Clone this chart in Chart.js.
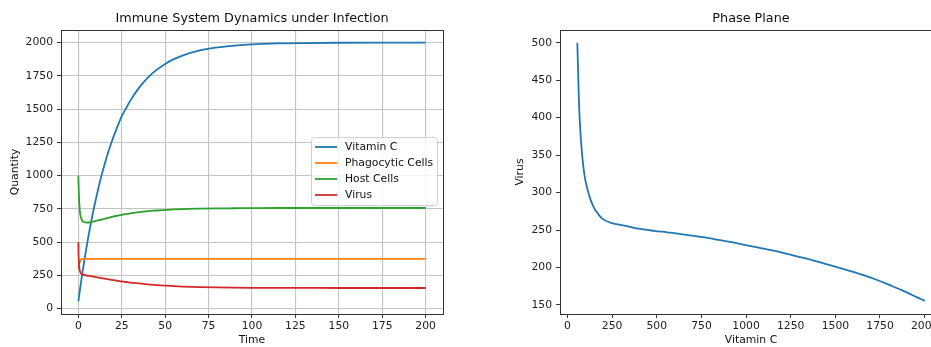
<!DOCTYPE html>
<html>
<head>
<meta charset="utf-8">
<script src="https://cdn.jsdelivr.net/npm/chart.js@4.4.1/dist/chart.umd.min.js"></script>
<style>
  html, body { margin:0; padding:0; background:#fff; }
  #page { position:relative; width:931px; height:347px; overflow:hidden; }
  #left { position:absolute; left:0; top:0; }
  #right { position:absolute; left:460px; top:0; }
</style>
</head>
<body>
<div id="page">
  <canvas id="left" width="460" height="347"></canvas>
  <canvas id="right" width="499" height="347"></canvas>
</div>
<script>
// simulation output
const time = [0, 0.1, 0.2, 0.3, 0.4, 0.5, 0.75, 1, 1.25, 1.5,
  2, 2.5, 3, 4, 5, 6, 7, 8, 9, 10,
  12.5, 15, 17.5, 20, 22.5, 25, 27.5, 30, 35, 40,
  45, 50, 55, 60, 70, 80, 90, 100, 115, 130,
  150, 175, 200];
const vitaminC = [55, 65, 74, 84, 94, 103, 127, 150, 173, 196,
  240, 284, 326, 407, 485, 559, 629, 697, 760, 819,
  959, 1081, 1189, 1284, 1369, 1448, 1508, 1566, 1662, 1737,
  1795, 1840, 1876, 1903, 1941, 1964, 1978, 1987, 1994, 1997,
  1999, 2000, 2000];
const phagocytic = [300, 310, 320, 328, 334, 340, 352, 360, 365, 369,
  373, 374.5, 375, 375, 375, 375, 375, 375, 375, 375,
  375, 375, 375, 375, 375, 375, 375, 375, 375, 375,
  375, 375, 375, 375, 375, 375, 375, 375, 375, 375,
  375, 375, 375];
const hostCells = [1000, 945, 900, 860, 828, 800, 750, 718, 698, 685,
  668, 658, 652, 648, 647, 648, 650, 653, 656, 660,
  668, 676, 684, 692, 699, 706, 712, 717, 726, 733,
  738, 743, 746, 749, 752, 754, 755, 756, 757, 757,
  757, 757, 757];
const virus = [500, 415, 375, 345, 325, 313, 292, 279, 271, 265,
  260, 257.5, 255.5, 251.5, 249, 247, 245, 242.5, 240.5, 238,
  232, 226, 220.5, 215, 210, 204.5, 200.5, 196.5, 189.5, 183,
  177.5, 173, 169.5, 166.5, 162, 159.5, 158, 157, 156.5, 156,
  155.5, 155.5, 155.5];

const seriesNames = ['Vitamin C', 'Phagocytic Cells', 'Host Cells', 'Virus'];
const seriesColors = ['#1f77b4', '#ff7f0e', '#2ca02c', '#d62728'];

const FS = 10.8;
Chart.defaults.font.family = "'DejaVu Sans', sans-serif";
Chart.defaults.font.size = FS;
Chart.defaults.color = '#222';

// matplotlib style box around the axes
const framePlugin = {
  id: 'frame',
  afterDraw(chart){
    const a = chart.chartArea, ctx = chart.ctx;
    ctx.save();
    ctx.strokeStyle = '#333';
    ctx.lineWidth = 1;
    ctx.strokeRect(Math.round(a.left)+0.5, Math.round(a.top)+0.5, Math.round(a.right-a.left), Math.round(a.bottom-a.top));
    ctx.restore();
  }
};

// legend drawn inside the plot area
const boxLegend = {
  id: 'boxLegend',
  afterDatasetsDraw(chart){
    const a = chart.chartArea, ctx = chart.ctx;
    const w = 126, h = 68;
    const x = a.right - 6 - w, y = a.top + 107;
    ctx.save();
    ctx.beginPath();
    ctx.roundRect(x+0.5, y+0.5, w, h, 3);
    ctx.fillStyle = 'rgba(255,255,255,0.8)';
    ctx.fill();
    ctx.strokeStyle = '#d0d0d0';
    ctx.lineWidth = 1;
    ctx.stroke();
    ctx.font = FS + "px 'DejaVu Sans'";
    ctx.textBaseline = 'middle';
    chart.data.datasets.forEach((ds, i)=>{
      const yy = y + 10 + i*16;
      ctx.strokeStyle = ds.borderColor;
      ctx.lineWidth = 1.8;
      ctx.beginPath();
      ctx.moveTo(x+4, yy);
      ctx.lineTo(x+26, yy);
      ctx.stroke();
      ctx.fillStyle = '#111';
      ctx.fillText(ds.label, x+34, yy);
    });
    ctx.restore();
  }
};

function axis(o){
  return {
    type: 'linear',
    min: o.min, max: o.max,
    afterFit(s){ if (o.width) s.width = o.width; if (o.height) s.height = o.height; },
    border: { display: false },
    grid: {
      display: true,
      drawOnChartArea: o.grid,
      color: '#c4c4c4',
      lineWidth: 1.1,
      drawTicks: true,
      tickLength: 4,
      tickColor: '#333',
      tickWidth: 1
    },
    ticks: {
      stepSize: o.step,
      includeBounds: false,
      autoSkip: false,
      maxRotation: 0,
      padding: o.pad,
      color: '#222',
      callback: v => String(v)
    },
    title: { display: true, text: o.title, color: '#111', padding: o.titlePad }
  };
}

function titleOpts(text){
  return {
    display: true, text, fullSize: false,
    color: '#111',
    font: { size: 12.8, weight: 'normal' },
    padding: { top: 10.5, bottom: 4.14 }
  };
}

// left: time series
new Chart(document.getElementById('left'), {
  type: 'line',
  data: {
    datasets: seriesNames.map((name, i)=>({
      label: name,
      data: [vitaminC, phagocytic, hostCells, virus][i].map((v, k)=>({x: time[k], y: v})),
      borderColor: seriesColors[i],
      backgroundColor: seriesColors[i],
      borderWidth: 1.8,
      pointRadius: 0,
      cubicInterpolationMode: 'monotone',
      fill: false,
      order: 3 - i
    }))
  },
  options: {
    responsive: false,
    animation: false,
    layout: { padding: { left: 0, right: 17, top: 0, bottom: 0 } },
    plugins: {
      legend: { display: false },
      tooltip: { enabled: false },
      title: titleOpts('Immune System Dynamics under Infection')
    },
    scales: {
      x: axis({min: -10, max: 210, step: 25, grid: true, height: 33, pad: 2, title: 'Time', titlePad: {top: 0, bottom: 0}}),
      y: axis({min: -40, max: 2095, step: 250, grid: true, width: 61, pad: 4, title: 'Quantity', titlePad: {top: 8.5, bottom: 0}})
    }
  },
  plugins: [framePlugin, boxLegend]
});

// right: phase plane, vitamin C against virus
new Chart(document.getElementById('right'), {
  type: 'line',
  data: {
    datasets: [{
      label: 'Phase Plane',
      data: vitaminC.map((v, k)=>({x: v, y: virus[k]})),
      borderColor: seriesColors[0],
      borderWidth: 1.8,
      pointRadius: 0,
      cubicInterpolationMode: 'monotone',
      fill: false
    }]
  },
  options: {
    responsive: false,
    animation: false,
    layout: { padding: { left: 0, right: 17, top: 0, bottom: 0 } },
    plugins: {
      legend: { display: false },
      tooltip: { enabled: false },
      title: titleOpts('Phase Plane')
    },
    scales: {
      x: axis({min: -42, max: 2097, step: 250, grid: false, height: 33, pad: 2, title: 'Vitamin C', titlePad: {top: 0, bottom: 0}}),
      y: axis({min: 138, max: 517, step: 50, grid: false, width: 100, pad: 4, title: 'Virus', titlePad: {top: 53.5, bottom: 0}})
    }
  },
  plugins: [framePlugin]
});
</script>
</body>
</html>
